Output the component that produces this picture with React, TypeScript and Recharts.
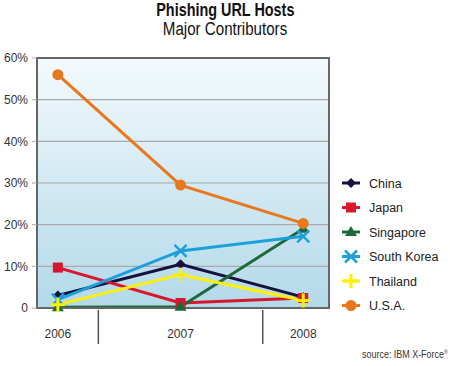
import React from "react";
import {
  LineChart,
  Line,
  XAxis,
  YAxis,
  CartesianGrid,
  ReferenceArea,
} from "recharts";

const years = [2006, 2007, 2008];
const china = [3, 10.5, 2.6];
const japan = [9.7, 1.2, 2.4];
const singapore = [0.2, 0.3, 19];
const southKorea = [2, 13.7, 17.2];
const thailand = [0.8, 8, 1.8];
const usa = [56, 29.5, 20.3];
const yTicks = [0, 10, 20, 30, 40, 50, 60];
const separators = [2006.33, 2007.67];
const xDomain = [2005.83, 2008.21];

const data = years.map((year, i) => ({
  year,
  china: china[i],
  japan: japan[i],
  singapore: singapore[i],
  southKorea: southKorea[i],
  thailand: thailand[i],
  usa: usa[i],
}));

type Shape = "diamond" | "square" | "triangle" | "star" | "plus" | "circle";

const series: { key: string; name: string; color: string; shape: Shape }[] = [
  { key: "china", name: "China", color: "#15123f", shape: "diamond" },
  { key: "japan", name: "Japan", color: "#d8172c", shape: "square" },
  { key: "singapore", name: "Singapore", color: "#1c6a3c", shape: "triangle" },
  { key: "southKorea", name: "South Korea", color: "#1d9fdb", shape: "star" },
  { key: "thailand", name: "Thailand", color: "#fff000", shape: "plus" },
  { key: "usa", name: "U.S.A.", color: "#e8781e", shape: "circle" },
];

function Marker({ cx, cy, shape, color }: { cx: number; cy: number; shape: Shape; color: string }) {
  if (cx == null || cy == null) return null;
  switch (shape) {
    case "diamond":
      return <polygon points={`${cx},${cy - 5} ${cx + 5},${cy} ${cx},${cy + 5} ${cx - 5},${cy}`} fill={color} />;
    case "square":
      return <rect x={cx - 5} y={cy - 5} width={10} height={10} fill={color} />;
    case "triangle":
      return <polygon points={`${cx},${cy - 6} ${cx + 6},${cy + 4} ${cx - 6},${cy + 4}`} fill={color} />;
    case "star":
      return (
        <g stroke={color} strokeWidth={2.5}>
          <line x1={cx - 6} y1={cy - 6} x2={cx + 6} y2={cy + 6} />
          <line x1={cx - 6} y1={cy + 6} x2={cx + 6} y2={cy - 6} />
        </g>
      );
    case "plus":
      return (
        <g stroke={color} strokeWidth={3}>
          <line x1={cx} y1={cy - 7} x2={cx} y2={cy + 7} />
          <line x1={cx - 7} y1={cy} x2={cx + 7} y2={cy} />
        </g>
      );
    default:
      return <circle cx={cx} cy={cy} r={5.5} fill={color} />;
  }
}

function XTick(props: any) {
  const { x, y, payload } = props;
  if (!Number.isInteger(payload.value)) {
    return <line x1={x} y1={y - 6} x2={x} y2={y + 28} stroke="#555" strokeWidth={1.5} />;
  }
  return (
    <text x={x} y={y + 22} textAnchor="middle" fontSize={12} fill="#333">
      {payload.value}
    </text>
  );
}

const narrow: React.CSSProperties = { display: "inline-block", transform: "scaleX(0.8)" };

export default function App() {
  return (
    <div style={{ position: "absolute", left: 0, top: 0, width: 450, height: 366, background: "#fff", fontFamily: "Liberation Sans, Arial, sans-serif" }}>
      <div style={{ position: "absolute", top: 1, width: 450, textAlign: "center", color: "#111", lineHeight: "19px" }}>
        <div style={{ fontWeight: "bold", fontSize: 18 }}>
          <span style={narrow}>Phishing URL Hosts</span>
        </div>
        <div style={{ fontSize: 18 }}>
          <span style={{ display: "inline-block", transform: "scaleX(0.84)" }}>Major Contributors</span>
        </div>
      </div>
      <LineChart width={450} height={366} data={data} margin={{ top: 58, right: 121, bottom: 28, left: 0 }}>
        <defs>
          <linearGradient id="bg" x1="0" y1="0" x2="0" y2="1">
            <stop offset="0%" stopColor="#f3fafd" />
            <stop offset="100%" stopColor="#b3d9e9" />
          </linearGradient>
        </defs>
        <CartesianGrid vertical={false} stroke="#aaa" strokeWidth={1.2} fill="url(#bg)" fillOpacity={1} />
        <XAxis
          dataKey="year"
          type="number"
          domain={xDomain}
          ticks={[...years, ...separators]}
          tick={<XTick />}
          tickLine={false}
          axisLine={{ stroke: "#666", strokeWidth: 2 }}
          height={30}
          interval={0}
        />
        <YAxis
          domain={[0, 60]}
          ticks={yTicks}
          tickFormatter={(v: number) => (v === 0 ? "0" : `${v}%`)}
          width={37}
          tick={{ fontSize: 12, fill: "#333" }}
          tickLine={{ stroke: "#aaa" }}
          tickSize={5}
          tickMargin={4}
          axisLine={{ stroke: "#666", strokeWidth: 2 }}
        />
        <ReferenceArea x1={xDomain[0]} x2={xDomain[1]} y1={0} y2={60} fill="none" stroke="#666" strokeWidth={2} />
        {series.map((s) => (
          <Line
            key={s.key}
            dataKey={s.key}
            stroke={s.color}
            strokeWidth={3}
            isAnimationActive={false}
            dot={(p: any) => <Marker key={`${s.key}-${p.index}`} cx={p.cx} cy={p.cy} shape={s.shape} color={s.color} />}
            activeDot={false}
          />
        ))}
      </LineChart>
      <svg style={{ position: "absolute", left: 338, top: 172 }} width={112} height={150}>
        {series.map((s, i) => {
          const y = 11 + i * 24.5;
          return (
            <g key={s.key}>
              <line x1={4} y1={y} x2={22} y2={y} stroke={s.color} strokeWidth={3} />
              <Marker cx={13} cy={y} shape={s.shape} color={s.color} />
              <text x={31} y={y + 4.5} fontSize={12.5} fill="#222">
                {s.name}
              </text>
            </g>
          );
        })}
      </svg>
      <div style={{ position: "absolute", right: 2, top: 348, fontSize: 10.5, color: "#333", whiteSpace: "nowrap", transform: "scaleX(0.85)", transformOrigin: "right" }}>
        source: IBM X-Force<sup style={{ fontSize: 6 }}>®</sup>
      </div>
    </div>
  );
}
